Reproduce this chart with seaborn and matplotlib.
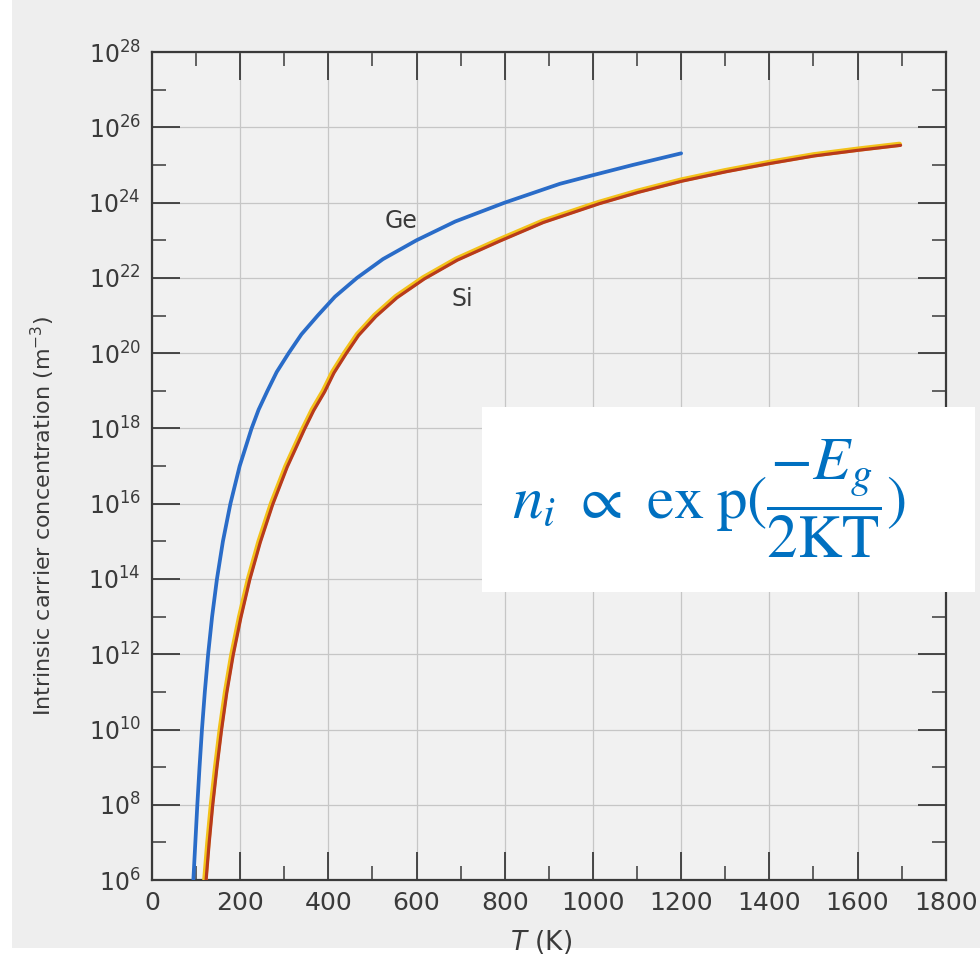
import numpy as np
import pandas as pd
import matplotlib
matplotlib.use("Agg")
import matplotlib.pyplot as plt
import matplotlib.transforms as mtransforms
from matplotlib.patches import Rectangle
from matplotlib.ticker import FixedLocator, FixedFormatter, NullFormatter
import seaborn as sns

# ---------------- data ----------------
ge_T = [94, 98.5, 103, 108, 113.5, 120, 127.5, 136.5, 147.5, 161, 178, 199, 226, 242,
        262, 283, 310, 339, 376, 415, 465, 524, 600, 688, 800, 925, 1000, 1090, 1200]
ge_log_ni = [6, 7, 8, 9, 10, 11, 12, 13, 14, 15, 16, 17, 18, 18.5,
             19, 19.5, 20, 20.5, 21, 21.5, 22, 22.5, 23, 23.5, 24, 24.5, 24.73, 25, 25.31]

si_T = [120, 127, 135, 144.5, 155, 167, 181.5, 199, 219, 243, 271, 304, 343, 364,
        389, 410, 437, 466, 505, 553, 615, 690, 785, 885, 1012, 1100, 1200, 1300,
        1400, 1500, 1600, 1695]
si_log_ni = [6, 7, 8, 9, 10, 11, 12, 13, 14, 15, 16, 17, 18, 18.5,
             19, 19.5, 20, 20.5, 21, 21.5, 22, 22.5, 23, 23.5, 24, 24.3, 24.6, 24.85,
             25.07, 25.27, 25.42, 25.55]

x_major = [0, 200, 400, 600, 800, 1000, 1200, 1400, 1600, 1800]
x_minor = [100, 300, 500, 700, 900, 1100, 1300, 1500, 1700]
y_major_exp = [6, 8, 10, 12, 14, 16, 18, 20, 22, 24, 26, 28]
y_minor_exp = [7, 9, 11, 13, 15, 17, 19, 21, 23, 25, 27]

curve_labels = ["Ge", "Si"]
curve_label_T = [565, 705]
curve_label_log = [23.5, 21.45]

# ---------------- style ----------------
sns.set_theme(style="ticks")
plt.rcParams["font.family"] = ["DejaVu Sans"]
plt.rcParams["mathtext.fontset"] = "dejavusans"

ink = "#3a3a3a"
fig = plt.figure(figsize=(9.8, 9.65), dpi=100, facecolor="white")
fig.patches.append(Rectangle((0.012, 0.018), 0.988, 0.982, transform=fig.transFigure,
                             facecolor="#eeeeee", edgecolor="none", zorder=-10))

ax = fig.add_axes([0.155, 0.088, 0.810, 0.858])
ax.set_facecolor("#f1f1f1")

ge = pd.DataFrame({"T": ge_T, "ni": 10.0 ** np.array(ge_log_ni)})
si = pd.DataFrame({"T": si_T, "ni": 10.0 ** np.array(si_log_ni)})

sns.lineplot(data=ge, x="T", y="ni", ax=ax, color="#2a6cc8", lw=2.7,
             sort=False, estimator=None, zorder=4)
sns.lineplot(data=si, x="T", y="ni", ax=ax, color="#f3c21a", lw=3.8,
             sort=False, estimator=None, zorder=3)
sns.lineplot(data=si, x="T", y="ni", ax=ax, color="#b83a1c", lw=2.3,
             sort=False, estimator=None, zorder=4)
red = ax.lines[-1]
red.set_transform(ax.transData + mtransforms.ScaledTranslation(1.2 / 100, -1.0 / 100,
                                                                fig.dpi_scale_trans))
for ln in ax.lines:
    ln.set_solid_capstyle("round")
    ln.set_solid_joinstyle("round")

ax.set_yscale("log")
ax.set_xlim(0, 1800)
ax.set_ylim(10.0 ** 6, 10.0 ** 28)

ax.xaxis.set_major_locator(FixedLocator(x_major))
ax.xaxis.set_minor_locator(FixedLocator(x_minor))
ax.xaxis.set_major_formatter(FixedFormatter([str(v) for v in x_major]))
ax.xaxis.set_minor_formatter(NullFormatter())
ax.yaxis.set_major_locator(FixedLocator([10.0 ** e for e in y_major_exp]))
ax.yaxis.set_minor_locator(FixedLocator([10.0 ** e for e in y_minor_exp]))
ax.yaxis.set_major_formatter(FixedFormatter([f"$10^{{{e}}}$" for e in y_major_exp]))
ax.yaxis.set_minor_formatter(NullFormatter())

ax.grid(True, which="major", color="#c6c6c6", linewidth=0.9)
for s in ax.spines.values():
    s.set_color(ink)
    s.set_linewidth(1.6)
    s.set_visible(True)

ax.tick_params(which="major", direction="in", length=20, width=1.3, color=ink,
               top=True, right=True, labelcolor=ink)
ax.tick_params(which="minor", direction="in", length=10, width=1.1, color=ink,
               top=True, right=True)
ax.tick_params(axis="x", which="major", labelsize=18, pad=8)
ax.tick_params(axis="y", which="major", labelsize=17, pad=8)

ax.set_xlabel("$T$ (K)", fontsize=19, color=ink)
ax.xaxis.set_label_coords(0.49, -0.058)
ax.set_ylabel("Intrinsic carrier concentration (m$^{-3}$)", fontsize=16, color=ink)
ax.yaxis.set_label_coords(-0.119, 0.44)

for lab, t, lg in zip(curve_labels, curve_label_T, curve_label_log):
    ax.text(t, 10.0 ** lg, lab, ha="center", va="center", fontsize=17, color=ink)

# formula box
fig.patches.append(Rectangle((0.492, 0.3865), 0.503, 0.1915, transform=fig.transFigure,
                             facecolor="white", edgecolor="none", zorder=5))
fig.text(0.7235, 0.483,
         r"$n_i\ \propto\ \mathrm{ex\;p}(\dfrac{-E_g}{2\mathrm{KT}})$",
         ha="center", va="center", fontsize=44, color="#0070C0", zorder=6,
         math_fontfamily="stix")

fig.savefig("out.png", dpi=100, facecolor=fig.get_facecolor())
